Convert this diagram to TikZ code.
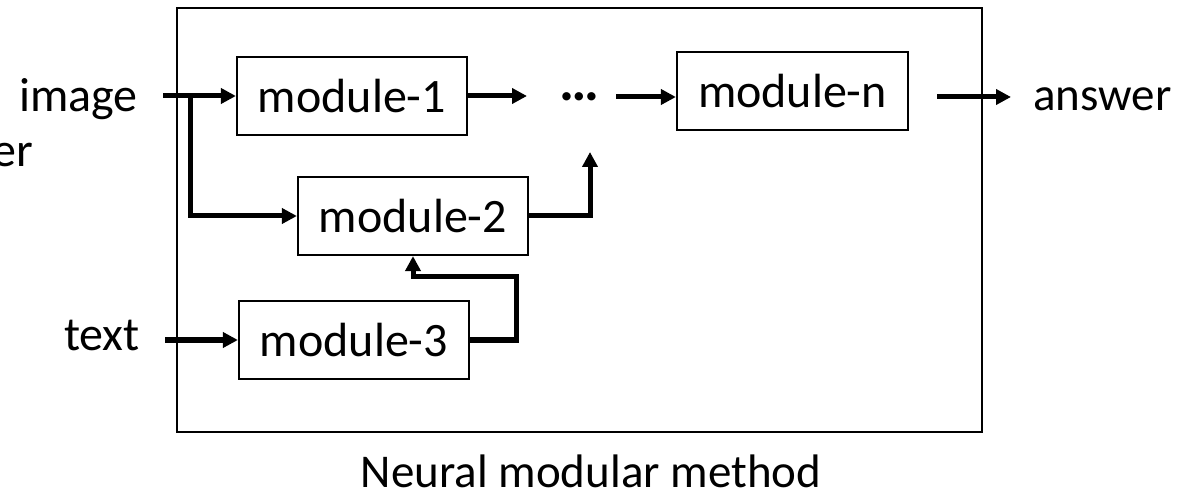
\documentclass[tikz,border=0pt]{standalone}
\usepackage{fontspec}
\setmainfont{Carlito}
\usetikzlibrary{arrows.meta}
\tikzset{
  modbox/.style={draw, line width=2.2pt, minimum width=230pt, minimum height=78pt, inner sep=0pt},
  lbl/.style={inner sep=0pt},
  arr/.style={line width=5pt, -{Triangle[length=15pt,width=15pt]}},
}
\begin{document}
\begin{tikzpicture}[x=1pt,y=-1pt,font=\fontsize{48}{56}\selectfont]
\useasboundingbox (0,0) rectangle (1179,497);

% enclosing frame
\node[draw, line width=2.2pt, minimum width=805pt, minimum height=424pt, inner sep=0pt] (frame) at (579.5,220) {};

% modules
\node[modbox] (m1) at (352,96) {module-1};
\node[modbox] (m2) at (413,216) {module-2};
\node[modbox] (m3) at (354,340) {module-3};
\node[modbox, minimum width=231pt] (mn) at (792.5,91) {module-n};
\node[lbl, font=\fontsize{56}{60}\selectfont\bfseries] (dots) at (579,97) {…};

% outside labels
\node[lbl, anchor=base east] (image) at (138,112) {image};
\node[lbl, anchor=base east] (er) at (33,167) {er};
\node[lbl, anchor=base east] (text) at (140,350) {text};
\node[lbl, anchor=base west, font=\fontsize{47}{56}\selectfont] (answer) at (1033,111) {answer};
\node[lbl, anchor=base, font=\fontsize{47}{56}\selectfont] (caption) at (591,487) {Neural modular method};

% connector end points
\coordinate (imgin) at (163,96);
\coordinate (split) at (190,96);
\coordinate (txtin) at (165,340);
\coordinate (dotin) at (527,96);
\coordinate (dotout) at (616,97);
\coordinate (upto) at (590,152);
\coordinate (bend) at (516,277);
\coordinate (nout) at (937,97);
\coordinate (nto) at (1011,97);

% connectors
\draw[arr] (imgin) -- (m1.west);
\draw[arr] (split) |- (m2.west);
\draw[arr] (txtin) -- (m3.west);
\draw[arr] (m1.east) -- (dotin);
\draw[arr] (dotout) -- (dotout -| mn.west);
\draw[arr] (m2.east) -| (upto);
\draw[arr] (m3.east) -| (bend) -| (m2.south);
\draw[arr] (nout) -- (nto);
\end{tikzpicture}
\end{document}
